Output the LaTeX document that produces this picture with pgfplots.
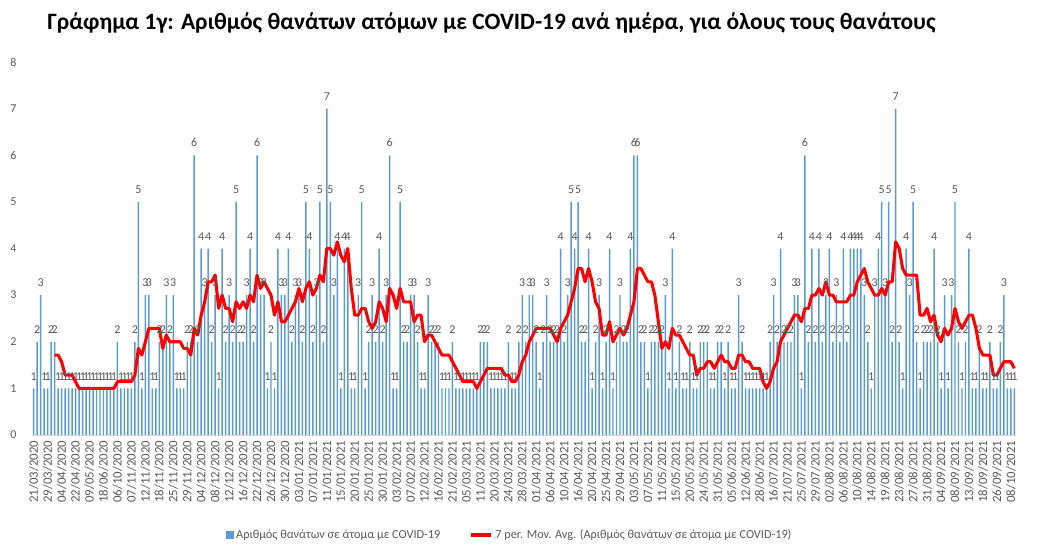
\documentclass[border=0pt]{standalone}
\usepackage{fontspec}
\setmainfont{Carlito}
\usepackage{pgfplots}
\pgfplotsset{compat=1.18}
\pgfplotsset{/pgf/number format/assume math mode=true}
\definecolor{barblue}{RGB}{91,155,213}
\definecolor{txtgray}{RGB}{89,89,89}
\definecolor{axgray}{RGB}{217,217,217}
\begin{document}
\begin{tikzpicture}[x=1pt,y=1pt]
\path[use as bounding box] (0,0) rectangle (779.25,415.5);
\node[anchor=west,inner sep=0pt,font=\bfseries\fontsize{17.6}{20}\selectfont] at (35.25,398.5) {Γράφημα 1γ: Αριθμός θανάτων ατόμων με COVID-19 ανά ημέρα, για όλους τους θανάτους};
\begin{axis}[
  at={(23.96pt,89.25pt)}, anchor=south west,
  scale only axis, width=738.1pt, height=279.75pt,
  xmin=-0.5, xmax=281.5, ymin=0, ymax=8,
  axis lines=left,
  axis line style={-},
  x axis line style={draw=axgray, line width=0.75pt},
  y axis line style={draw=none},
  tick style={draw=none},
  ytick={0,1,...,8},
  xtick={0,4,...,280},
  xticklabels={21/03/2020,29/03/2020,04/04/2020,22/04/2020,09/05/2020,18/06/2020,06/10/2020,07/11/2020,12/11/2020,18/11/2020,25/11/2020,29/11/2020,04/12/2020,08/12/2020,12/12/2020,16/12/2020,22/12/2020,26/12/2020,30/12/2020,03/01/2021,07/01/2021,11/01/2021,15/01/2021,20/01/2021,25/01/2021,30/01/2021,03/02/2021,07/02/2021,12/02/2021,16/02/2021,21/02/2021,05/03/2021,11/03/2021,20/03/2021,24/03/2021,28/03/2021,01/04/2021,06/04/2021,10/04/2021,16/04/2021,20/04/2021,25/04/2021,29/04/2021,03/05/2021,07/05/2021,11/05/2021,15/05/2021,20/05/2021,24/05/2021,31/05/2021,05/06/2021,12/06/2021,28/06/2021,16/07/2021,21/07/2021,25/07/2021,29/07/2021,02/08/2021,06/08/2021,10/08/2021,14/08/2021,19/08/2021,23/08/2021,27/08/2021,31/08/2021,04/09/2021,08/09/2021,13/09/2021,18/09/2021,26/09/2021,08/10/2021},
  x tick label style={rotate=90, anchor=east, font=\fontsize{9.6}{11}\selectfont, text=txtgray, inner sep=2pt},
  y tick label style={font=\fontsize{9}{11}\selectfont, text=txtgray, xshift=-6pt},
  clip=false,
  legend style={at={(0.486,-0.268)}, anchor=center, draw=none, fill=none, legend columns=2,
    font=\fontsize{9.2}{11}\selectfont, text=txtgray,
    /tikz/every even column/.append style={column sep=20pt}},
]
\addplot[ybar, bar width=1.1pt, fill=barblue, draw=none,
  nodes near coords,
  every node near coord/.append style={font=\fontsize{9}{11}\selectfont, text=txtgray, yshift=2.7pt},
  legend image code/.code={\fill[barblue] (0pt,-2.7pt) rectangle (5.4pt,2.7pt);}]
coordinates {(0,1)(1,2)(2,3)(3,1)(4,1)(5,2)(6,2)(7,1)(8,1)(9,1)(10,1)(11,1)(12,1)(13,1)(14,1)(15,1)(16,1)(17,1)(18,1)(19,1)(20,1)(21,1)(22,1)(23,1)(24,2)(25,1)(26,1)(27,1)(28,1)(29,2)(30,5)(31,1)(32,3)(33,3)(34,1)(35,1)(36,2)(37,2)(38,3)(39,2)(40,3)(41,1)(42,1)(43,1)(44,2)(45,2)(46,6)(47,2)(48,4)(49,3)(50,4)(51,2)(52,3)(53,1)(54,4)(55,2)(56,3)(57,2)(58,5)(59,2)(60,2)(61,3)(62,4)(63,2)(64,6)(65,3)(66,3)(67,1)(68,2)(69,1)(70,4)(71,3)(72,3)(73,4)(74,2)(75,3)(76,3)(77,2)(78,5)(79,4)(80,2)(81,3)(82,5)(83,2)(84,7)(85,5)(86,3)(87,4)(88,1)(89,4)(90,4)(91,1)(92,1)(93,3)(94,5)(95,1)(96,2)(97,3)(98,2)(99,4)(100,2)(101,3)(102,6)(103,1)(104,1)(105,5)(106,2)(107,2)(108,3)(109,3)(110,2)(111,1)(112,1)(113,3)(114,2)(115,2)(116,2)(117,1)(118,1)(119,1)(120,2)(121,1)(122,1)(123,1)(124,1)(125,1)(126,1)(127,1)(128,2)(129,2)(130,2)(131,1)(132,1)(133,1)(134,1)(135,1)(136,2)(137,1)(138,1)(139,2)(140,3)(141,2)(142,3)(143,3)(144,2)(145,1)(146,2)(147,3)(148,2)(149,2)(150,2)(151,4)(152,2)(153,3)(154,5)(155,4)(156,5)(157,2)(158,2)(159,4)(160,1)(161,2)(162,3)(163,1)(164,2)(165,4)(166,1)(167,2)(168,3)(169,2)(170,2)(171,4)(172,6)(173,6)(174,2)(175,2)(176,1)(177,2)(178,2)(179,2)(180,2)(181,3)(182,1)(183,4)(184,1)(185,2)(186,1)(187,1)(188,2)(189,1)(190,1)(191,2)(192,2)(193,2)(194,1)(195,1)(196,2)(197,2)(198,1)(199,2)(200,1)(201,1)(202,3)(203,2)(204,1)(205,1)(206,1)(207,1)(208,1)(209,1)(210,1)(211,2)(212,3)(213,2)(214,4)(215,2)(216,2)(217,2)(218,3)(219,3)(220,1)(221,6)(222,2)(223,4)(224,2)(225,4)(226,2)(227,3)(228,4)(229,2)(230,3)(231,2)(232,4)(233,2)(234,4)(235,4)(236,4)(237,4)(238,3)(239,2)(240,1)(241,3)(242,4)(243,5)(244,3)(245,5)(246,2)(247,7)(248,2)(249,1)(250,4)(251,3)(252,5)(253,2)(254,1)(255,2)(256,2)(257,2)(258,4)(259,2)(260,1)(261,3)(262,1)(263,3)(264,5)(265,2)(266,1)(267,2)(268,4)(269,1)(270,1)(271,2)(272,1)(273,1)(274,2)(275,1)(276,1)(277,2)(278,3)(279,1)(280,1)(281,1)};
\addlegendentry{Αριθμός θανάτων σε άτομα με COVID-19}
\addplot[red, line width=2.3pt, line join=round, mark=none,
  legend image code/.code={\draw[red,line width=2.3pt] (0pt,0pt) -- (15pt,0pt);}]
coordinates {(6,1.714)(7,1.714)(8,1.571)(9,1.286)(10,1.286)(11,1.286)(12,1.143)(13,1)(14,1)(15,1)(16,1)(17,1)(18,1)(19,1)(20,1)(21,1)(22,1)(23,1)(24,1.143)(25,1.143)(26,1.143)(27,1.143)(28,1.143)(29,1.286)(30,1.857)(31,1.714)(32,2)(33,2.286)(34,2.286)(35,2.286)(36,2.286)(37,1.857)(38,2.143)(39,2)(40,2)(41,2)(42,2)(43,1.857)(44,1.857)(45,1.714)(46,2.286)(47,2.143)(48,2.571)(49,2.857)(50,3.286)(51,3.286)(52,3.429)(53,2.714)(54,3)(55,2.714)(56,2.714)(57,2.429)(58,2.857)(59,2.714)(60,2.857)(61,2.714)(62,3)(63,2.857)(64,3.429)(65,3.143)(66,3.286)(67,3.143)(68,3)(69,2.571)(70,2.857)(71,2.429)(72,2.429)(73,2.571)(74,2.714)(75,2.857)(76,3.143)(77,2.857)(78,3.143)(79,3.286)(80,3)(81,3.143)(82,3.429)(83,3.286)(84,4)(85,4)(86,3.857)(87,4.143)(88,3.857)(89,3.714)(90,4)(91,3.143)(92,2.571)(93,2.571)(94,2.714)(95,2.714)(96,2.429)(97,2.286)(98,2.429)(99,2.857)(100,2.714)(101,2.429)(102,3.143)(103,3)(104,2.714)(105,3.143)(106,2.857)(107,2.857)(108,2.857)(109,2.429)(110,2.571)(111,2.571)(112,2)(113,2.143)(114,2.143)(115,2)(116,1.857)(117,1.714)(118,1.714)(119,1.714)(120,1.571)(121,1.429)(122,1.286)(123,1.143)(124,1.143)(125,1.143)(126,1.143)(127,1)(128,1.143)(129,1.286)(130,1.429)(131,1.429)(132,1.429)(133,1.429)(134,1.429)(135,1.286)(136,1.286)(137,1.143)(138,1.143)(139,1.286)(140,1.571)(141,1.714)(142,2)(143,2.143)(144,2.286)(145,2.286)(146,2.286)(147,2.286)(148,2.286)(149,2.143)(150,2)(151,2.286)(152,2.429)(153,2.571)(154,2.857)(155,3.143)(156,3.571)(157,3.571)(158,3.286)(159,3.571)(160,3.286)(161,2.857)(162,2.714)(163,2.143)(164,2.143)(165,2.429)(166,2)(167,2.143)(168,2.286)(169,2.143)(170,2.286)(171,2.571)(172,2.857)(173,3.571)(174,3.571)(175,3.429)(176,3.286)(177,3.286)(178,3)(179,2.429)(180,1.857)(181,2)(182,1.857)(183,2.286)(184,2.143)(185,2.143)(186,2)(187,1.857)(188,1.714)(189,1.714)(190,1.286)(191,1.429)(192,1.429)(193,1.571)(194,1.571)(195,1.429)(196,1.571)(197,1.714)(198,1.571)(199,1.571)(200,1.429)(201,1.429)(202,1.714)(203,1.714)(204,1.571)(205,1.571)(206,1.429)(207,1.429)(208,1.429)(209,1.143)(210,1)(211,1.143)(212,1.429)(213,1.571)(214,2)(215,2.143)(216,2.286)(217,2.429)(218,2.571)(219,2.571)(220,2.429)(221,2.714)(222,2.714)(223,3)(224,3)(225,3.143)(226,3)(227,3.286)(228,3)(229,3)(230,2.857)(231,2.857)(232,2.857)(233,2.857)(234,3)(235,3)(236,3.286)(237,3.429)(238,3.571)(239,3.286)(240,3.143)(241,3)(242,3)(243,3.143)(244,3)(245,3.286)(246,3.286)(247,4.143)(248,4)(249,3.571)(250,3.429)(251,3.429)(252,3.429)(253,3.429)(254,2.571)(255,2.571)(256,2.714)(257,2.429)(258,2.571)(259,2.143)(260,2)(261,2.286)(262,2.143)(263,2.286)(264,2.714)(265,2.429)(266,2.286)(267,2.429)(268,2.571)(269,2.571)(270,2.286)(271,1.857)(272,1.714)(273,1.714)(274,1.714)(275,1.286)(276,1.286)(277,1.429)(278,1.571)(279,1.571)(280,1.571)(281,1.429)};
\addlegendentry{7 per. Mov. Avg. (Αριθμός θανάτων σε άτομα με COVID-19)}
\end{axis}
\end{tikzpicture}
\end{document}
